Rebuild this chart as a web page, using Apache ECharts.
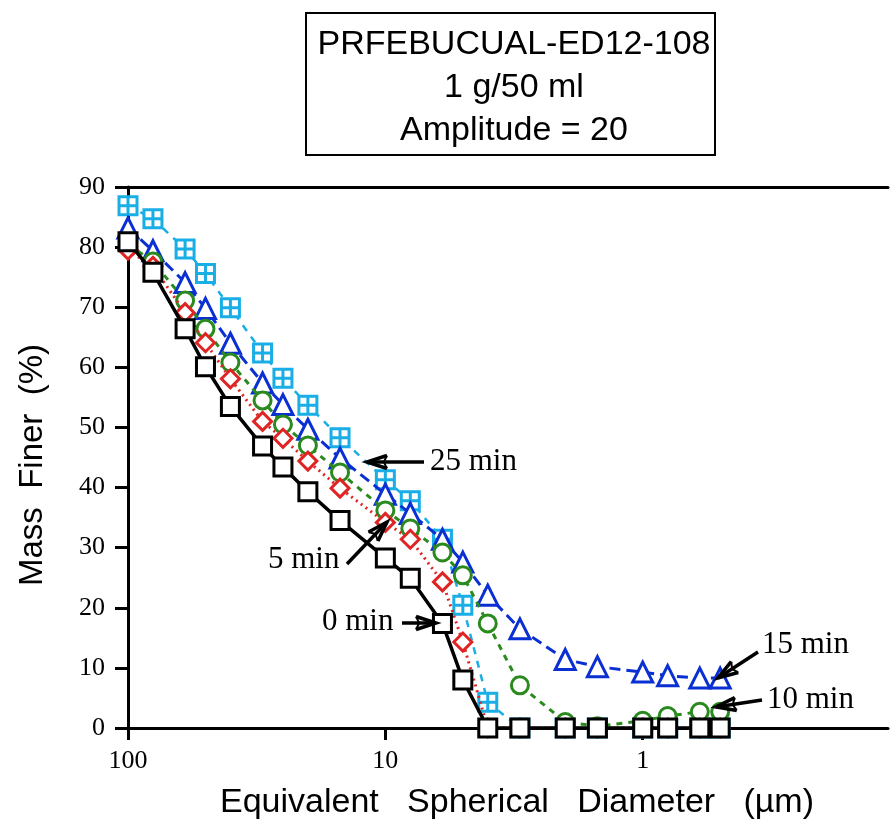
<!DOCTYPE html>
<html><head><meta charset="utf-8">
<script src="https://cdn.jsdelivr.net/npm/echarts@6/dist/echarts.min.js"></script>
<style>html,body{margin:0;padding:0;background:#fff}#c{width:890px;height:821px}</style>
</head><body><div id="c"></div>
<script>
// Equivalent spherical diameter (µm)
const diameters = [100, 80, 60, 50, 40, 30, 25, 20, 15, 10, 8, 6, 5, 4, 3, 2, 1.5, 1, 0.8, 0.6, 0.5];
// Mass finer (%) per sonication time
const min0  = [80.9, 75.8, 66.4, 60.1, 53.5, 46.9, 43.4, 39.3, 34.5, 28.3, 24.9, 17.4, 8.0, 0, 0, 0, 0, 0, 0, 0, 0];
const min5  = [79.5, 76.8, 69.1, 64.1, 58.1, 51.0, 48.2, 44.4, 39.9, 34.2, 31.4, 24.3, 14.3, 0, 0, 0, 0, 0, 0, 0, 0];
const min10 = [80.5, 77.6, 71.1, 66.4, 60.8, 54.5, 50.5, 47.0, 42.5, 36.2, 33.2, 29.2, 25.4, 17.4, 7.1, 1.0, 0.3, 1.2, 2.0, 2.7, 2.7];
const min15 = [83.2, 79.4, 74.1, 69.8, 64.0, 57.4, 53.8, 49.7, 44.9, 38.9, 35.7, 31.4, 27.6, 22.1, 16.5, 11.4, 10.2, 9.3, 8.7, 8.3, 8.3];
const min25 = [86.9, 84.7, 79.7, 75.6, 69.9, 62.4, 58.2, 53.7, 48.3, 41.3, 37.8, 31.4, 20.4, 4.3, 0, 0, 0, 0, 0, 0, 0];
const xTickLabels = [100, 10, 1];
const titleLines = ['PRFEBUCUAL-ED12-108', '1 g/50 ml', 'Amplitude = 20'];
const yTitle = 'Mass  Finer  (%)';
const xTitle = 'Equivalent   Spherical   Diameter   (µm)';
const annotations = [
  {text: '25 min', tx: 430, ty: 462, from: [424, 462], to: [367, 462]},
  {text: '5 min',  tx: 268, ty: 560, from: [347, 564], to: [387, 522]},
  {text: '0 min',  tx: 322, ty: 622, from: [402, 623], to: [436, 623]},
  {text: '15 min', tx: 762, ty: 645, from: [758, 652], to: [718, 678]},
  {text: '10 min', tx: 767, ty: 700, from: [762, 700], to: [716, 707]}
];

const gridPlus = 'path://M0,0L10,0L10,10L0,10Z M5,0L5,10 M0,5L10,5';

function pts(vals) { return diameters.map((d, i) => [d, vals[i]]); }
function mk(name, vals, color, symbol, size, dash, lw, z) {
  return {
    name, type: 'line', data: pts(vals), symbol, symbolSize: size, z,
    xAxisIndex: 0, yAxisIndex: 0,
    lineStyle: {color, width: lw, type: dash},
    itemStyle: {color: '#fff', borderColor: color, borderWidth: 3},
    emphasis: {disabled: true}, animation: false
  };
}

const chart = echarts.init(document.getElementById('c'), null, {renderer: 'canvas'});

const graphic = [];
graphic.push({type: 'rect', shape: {x: 306, y: 13, width: 409, height: 142},
  style: {fill: '#fff', stroke: '#000', lineWidth: 2}, z: 10});
titleLines.forEach((t, i) => graphic.push({type: 'text', x: 514, y: 45 + i * 43, z: 11,
  style: {text: t, fontFamily: 'Liberation Sans, Arial', fontSize: 34, fill: '#000',
    align: 'center', verticalAlign: 'middle'}}));
graphic.push({type: 'text', x: 33, y: 465, rotation: Math.PI / 2, z: 11,
  style: {text: yTitle, fontFamily: 'Liberation Sans, Arial', fontSize: 33, fill: '#000',
    align: 'center', verticalAlign: 'middle'}});
graphic.push({type: 'text', x: 517, y: 803, z: 11,
  style: {text: xTitle, fontFamily: 'Liberation Sans, Arial', fontSize: 34, fill: '#000',
    align: 'center', verticalAlign: 'middle'}});

annotations.forEach(a => {
  graphic.push({type: 'text', x: a.tx, y: a.ty, z: 20,
    style: {text: a.text, fontFamily: 'Liberation Serif, Times New Roman', fontSize: 31, fill: '#000',
      align: 'left', verticalAlign: 'middle'}});
  const [x1, y1] = a.from, [x2, y2] = a.to;
  const ang = Math.atan2(y2 - y1, x2 - x1), L = 21, th = 18 * Math.PI / 180;
  const p1 = [x2 - L * Math.cos(ang - th), y2 - L * Math.sin(ang - th)];
  const p2 = [x2 - L * Math.cos(ang + th), y2 - L * Math.sin(ang + th)];
  const pm = [x2 - L * 0.8 * Math.cos(ang), y2 - L * 0.8 * Math.sin(ang)];
  graphic.push({type: 'line', z: 20, shape: {x1, y1, x2, y2}, style: {stroke: '#000', lineWidth: 3.5}});
  graphic.push({type: 'polyline', z: 20, shape: {points: [p1, [x2, y2], p2]},
    style: {stroke: '#000', lineWidth: 3.5, fill: null}});
  graphic.push({type: 'polyline', z: 20, shape: {points: [p1, pm, p2]},
    style: {stroke: '#000', lineWidth: 2, fill: null}});
});

chart.setOption({
  animation: false,
  backgroundColor: '#fff',
  grid: {left: 128, right: 2, top: 187, bottom: 93, show: false, containLabel: false, outerBoundsMode: 'none'},
  xAxis: [{
    type: 'log', logBase: 10, min: 0.1114, max: 100, inverse: true,
    axisLine: {show: true, lineStyle: {color: '#000', width: 3}},
    axisTick: {show: true, length: 12, lineStyle: {color: '#000', width: 3}},
    minorTick: {show: false},
    axisLabel: {color: '#000', fontFamily: 'Liberation Serif, Times New Roman', fontSize: 26, margin: 20,
      showMinLabel: false, showMaxLabel: true,
      formatter: v => (xTickLabels.some(t => Math.abs(t - v) < 1e-6) ? String(Math.round(v)) : '')},
    splitLine: {show: false}
  }, {
    type: 'value', position: 'top', min: 0, max: 1,
    axisLine: {show: true, onZero: false, lineStyle: {color: '#000', width: 3}},
    axisTick: {show: false}, axisLabel: {show: false}, splitLine: {show: false}
  }],
  yAxis: {
    type: 'value', min: 0, max: 90, interval: 10,
    axisLine: {show: true, lineStyle: {color: '#000', width: 3}},
    axisTick: {show: true, length: 13, lineStyle: {color: '#000', width: 3}},
    axisLabel: {color: '#000', fontFamily: 'Liberation Serif, Times New Roman', fontSize: 26, margin: 23},
    splitLine: {show: false}
  },
  series: [
    mk('25 min', min25, '#1aaee6', gridPlus, 18, [7, 7], 2.5, 2),
    mk('15 min', min15, '#0a2fd2', 'triangle', 20, [11, 6], 3, 3),
    mk('10 min', min10, '#2a8a1e', 'circle', 17, [6, 6], 3, 4),
    mk('5 min',  min5,  '#e02424', 'diamond', 18, [2, 4], 3, 5),
    mk('0 min',  min0,  '#000000', 'rect', 18, 'solid', 3.5, 6)
  ],
  graphic
});
</script></body></html>
